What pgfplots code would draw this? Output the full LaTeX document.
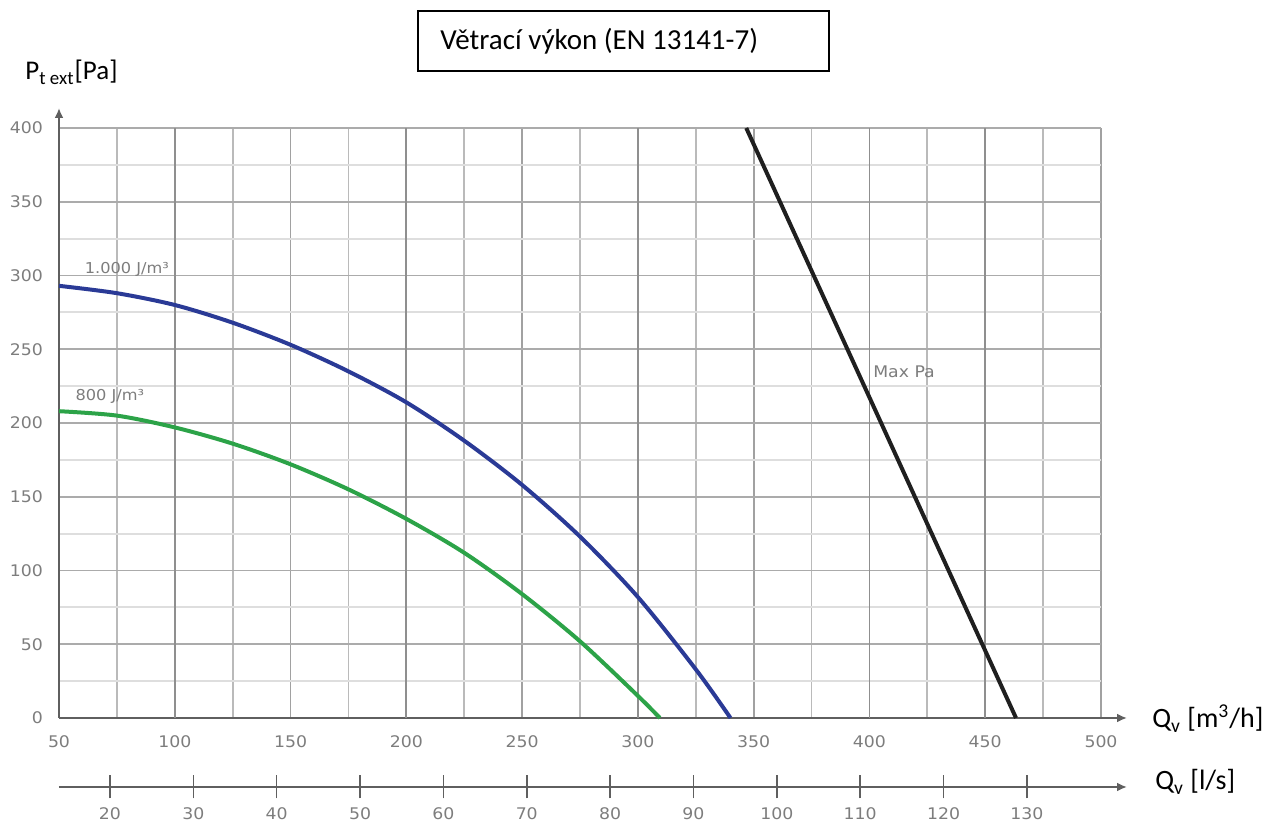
\documentclass[border=0pt]{standalone}
\usepackage{fontspec}
\setmainfont{Carlito}
\newfontfamily\tickfont[FakeStretch=1.08]{DejaVu Sans}
\usepackage{pgfplots}
\pgfplotsset{compat=1.18}
\usetikzlibrary{arrows.meta}

\definecolor{curveblue}{RGB}{42,58,150}
\definecolor{curvegreen}{RGB}{44,163,72}
\definecolor{axisgray}{RGB}{95,95,95}
\definecolor{labelgray}{RGB}{125,125,125}

\begin{document}
\begin{tikzpicture}
\path[use as bounding box] (0,0) rectangle (633pt,411.5pt);

% main chart: pressure vs. air flow in m3/h
\begin{axis}[
	at={(29.5pt,52.5pt)}, anchor=south west,
	scale only axis,
	width=521pt, height=295pt,
	xmin=50, xmax=500,
	ymin=0, ymax=400,
	axis lines=left,
	x axis line style={-{Latex[length=5pt,width=4.5pt]}, shorten >=-13pt, draw=axisgray, line width=1pt},
	y axis line style={-{Latex[length=5pt,width=4.5pt]}, shorten >=-10pt, draw=axisgray, line width=1pt},
	xtick={50,100,...,500},
	ytick={0,50,...,400},
	minor x tick num=1,
	minor y tick num=1,
	major tick length=0pt, minor tick length=0pt,
	grid=both,
	major x grid style={black!37, line width=0.9pt},
	minor x grid style={black!27, line width=0.9pt},
	major y grid style={black!33, line width=0.9pt},
	minor y grid style={black!13, line width=0.9pt},
	extra x ticks={100,200,300,400,450},
	extra x tick labels={},
	extra x tick style={major x grid style={black!44, line width=0.9pt}, major tick length=0pt},
	/pgf/number format/assume math mode=true,
	/pgf/number format/1000 sep={},
	tick label style={font=\tickfont\fontsize{8}{9}\selectfont, text=labelgray},
	xticklabel style={yshift=-5.5pt},
	yticklabel style={xshift=-4.5pt},
	clip=false,
]
% 1.000 J/m3
\addplot[curveblue, line width=2pt, smooth] coordinates {
	(50,293) (75,288) (100,280) (125,268) (150,253) (175,235)
	(200,214) (225,188) (250,158) (275,123) (300,82) (325,33) (340,0)
};
% 800 J/m3
\addplot[curvegreen, line width=2pt, smooth] coordinates {
	(50,208) (75,205) (100,197) (125,186) (150,172) (175,155)
	(200,135) (225,112) (250,84) (275,52) (300,15) (309.5,0)
};
% Max Pa
\addplot[black!88, line width=2pt] coordinates {
	(346.8,400) (463.3,0)
};
\node[anchor=west, inner sep=0pt, text=labelgray, font=\tickfont\fontsize{7.5}{9}\selectfont] at (axis cs:61,304) {1.000 J/m³};
\node[anchor=west, inner sep=0pt, text=labelgray, font=\tickfont\fontsize{7.5}{9}\selectfont] at (axis cs:57,218) {800 J/m³};
\node[anchor=west, inner sep=0pt, text=labelgray, font=\tickfont\fontsize{8}{9}\selectfont] at (axis cs:401.5,235) {Max Pa};
\end{axis}

% secondary scale: l/s
\begin{axis}[
	at={(29.5pt,18pt)}, anchor=south west,
	scale only axis,
	width=521pt, height=5pt,
	xmin=13.8889, xmax=138.8889,
	ymin=0, ymax=1,
	axis x line=bottom,
	axis y line=none,
	x axis line style={-{Latex[length=5pt,width=4.5pt]}, shorten >=-13pt, draw=axisgray, line width=1pt},
	xtick={20,30,...,130},
	ytick=\empty,
	xtick align=center,
	major tick length=11.5pt,
	every tick/.style={axisgray, line width=0.8pt},
	/pgf/number format/assume math mode=true,
	tick label style={font=\tickfont\fontsize{8}{9}\selectfont, text=labelgray},
	xticklabel style={yshift=-1pt},
]
\end{axis}

% title box and axis names
\draw[line width=0.75pt] (209pt,376pt) rectangle (414.5pt,406pt);
\node[anchor=base west, inner sep=0pt, font=\fontsize{14.5}{17}\selectfont] at (220pt,386.5pt) {Větrací výkon (EN 13141-7)};
\node[anchor=base west, inner sep=0pt, font=\fontsize{13.5}{16}\selectfont] at (12.5pt,371.5pt) {P\textsubscript{t ext}[Pa]};
\node[anchor=base west, inner sep=0pt, font=\fontsize{14}{16}\selectfont] at (576pt,47.5pt) {Q\textsubscript{v} [m\textsuperscript{3}/h]};
\node[anchor=base west, inner sep=0pt, font=\fontsize{14}{16}\selectfont] at (577.5pt,16.5pt) {Q\textsubscript{v} [l/s]};
\end{tikzpicture}
\end{document}
